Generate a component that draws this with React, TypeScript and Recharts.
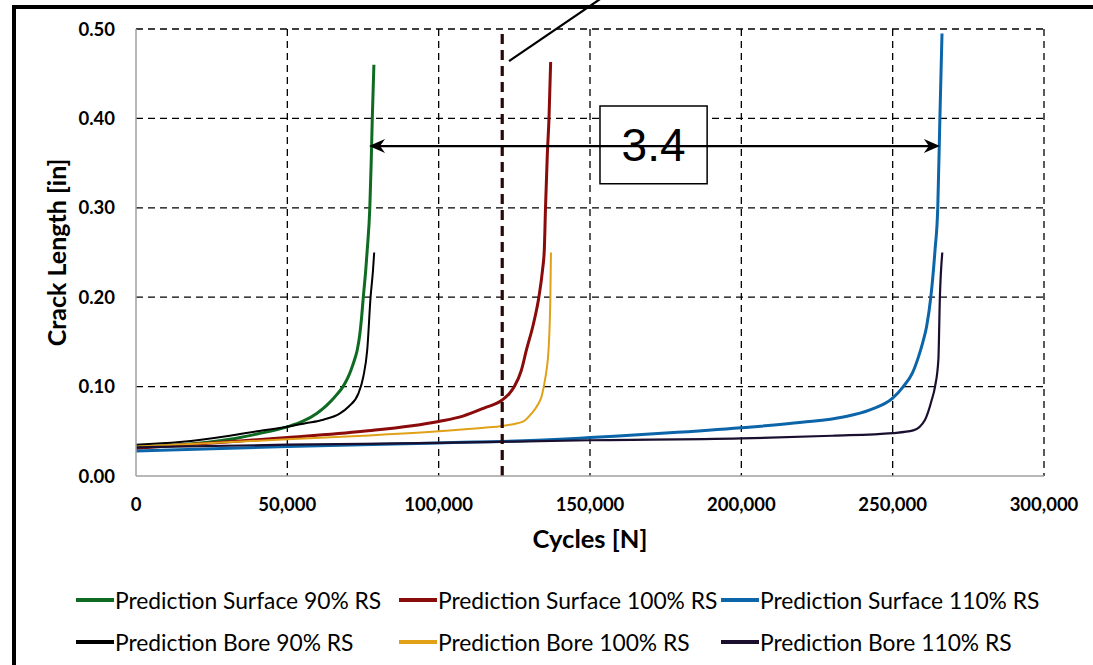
import React from 'react';
import {
  LineChart, Line, XAxis, YAxis, CartesianGrid, ReferenceLine, ReferenceArea,
} from 'recharts';

// ---- data (cycles, crack length in) ----
const surface90: { x: number; y: number }[] = [
  { x: 0, y: 0.033 }, { x: 15000, y: 0.035 }, { x: 31000, y: 0.041 }, { x: 40000, y: 0.047 },
  { x: 50000, y: 0.055 }, { x: 55000, y: 0.061 }, { x: 59700, y: 0.070 }, { x: 63000, y: 0.079 },
  { x: 65800, y: 0.089 }, { x: 68400, y: 0.100 }, { x: 70000, y: 0.110 }, { x: 71200, y: 0.120 },
  { x: 72200, y: 0.130 }, { x: 73100, y: 0.141 }, { x: 74000, y: 0.160 }, { x: 74600, y: 0.180 },
  { x: 75100, y: 0.200 }, { x: 75900, y: 0.230 }, { x: 76400, y: 0.253 }, { x: 77250, y: 0.300 },
  { x: 77700, y: 0.350 }, { x: 78070, y: 0.400 }, { x: 78600, y: 0.460 },
];
const surface100: { x: number; y: number }[] = [
  { x: 0, y: 0.031 }, { x: 25000, y: 0.037 }, { x: 50000, y: 0.043 }, { x: 75000, y: 0.050 },
  { x: 100000, y: 0.061 }, { x: 108000, y: 0.067 }, { x: 115000, y: 0.076 }, { x: 121000, y: 0.085 },
  { x: 123300, y: 0.092 }, { x: 125000, y: 0.100 }, { x: 127300, y: 0.118 }, { x: 129000, y: 0.141 },
  { x: 131300, y: 0.170 }, { x: 133100, y: 0.200 }, { x: 134300, y: 0.230 }, { x: 134900, y: 0.253 },
  { x: 135300, y: 0.300 }, { x: 135900, y: 0.360 }, { x: 136450, y: 0.400 }, { x: 137000, y: 0.463 },
];
const surface110: { x: number; y: number }[] = [
  { x: 0, y: 0.028 }, { x: 50000, y: 0.033 }, { x: 100000, y: 0.037 }, { x: 140000, y: 0.041 },
  { x: 150000, y: 0.043 }, { x: 175000, y: 0.048 }, { x: 200000, y: 0.054 }, { x: 220000, y: 0.060 },
  { x: 233700, y: 0.066 }, { x: 242500, y: 0.074 }, { x: 250000, y: 0.087 }, { x: 253500, y: 0.100 },
  { x: 256500, y: 0.115 }, { x: 258500, y: 0.133 }, { x: 260000, y: 0.150 }, { x: 261200, y: 0.167 },
  { x: 262600, y: 0.200 }, { x: 264000, y: 0.253 }, { x: 264900, y: 0.300 }, { x: 265600, y: 0.400 },
  { x: 266300, y: 0.495 },
];
const bore90: { x: number; y: number }[] = [
  { x: 0, y: 0.035 }, { x: 14500, y: 0.038 }, { x: 31000, y: 0.045 }, { x: 40000, y: 0.050 },
  { x: 50000, y: 0.055 }, { x: 56000, y: 0.059 }, { x: 61900, y: 0.063 }, { x: 67400, y: 0.070 },
  { x: 70200, y: 0.0775 }, { x: 73500, y: 0.0925 }, { x: 75100, y: 0.111 }, { x: 76400, y: 0.141 },
  { x: 77500, y: 0.200 }, { x: 78300, y: 0.230 }, { x: 78700, y: 0.250 },
];
const bore100: { x: number; y: number }[] = [
  { x: 0, y: 0.033 }, { x: 25000, y: 0.037 }, { x: 50000, y: 0.041 }, { x: 75000, y: 0.045 },
  { x: 100000, y: 0.050 }, { x: 115000, y: 0.054 }, { x: 121000, y: 0.056 }, { x: 126000, y: 0.059 },
  { x: 128000, y: 0.061 }, { x: 130700, y: 0.070 }, { x: 132800, y: 0.080 }, { x: 134000, y: 0.089 },
  { x: 135000, y: 0.105 }, { x: 135700, y: 0.120 }, { x: 136300, y: 0.141 }, { x: 136900, y: 0.200 },
  { x: 137100, y: 0.250 },
];
const bore110: { x: number; y: number }[] = [
  { x: 0, y: 0.032 }, { x: 50000, y: 0.035 }, { x: 100000, y: 0.037 }, { x: 150000, y: 0.040 },
  { x: 200000, y: 0.042 }, { x: 230000, y: 0.045 }, { x: 250000, y: 0.048 }, { x: 256800, y: 0.051 },
  { x: 260700, y: 0.063 }, { x: 262900, y: 0.085 }, { x: 264000, y: 0.100 }, { x: 265100, y: 0.130 },
  { x: 265600, y: 0.200 }, { x: 266400, y: 0.250 },
];

const seriesNames = [
  'Prediction Surface 90% RS', 'Prediction Surface 100% RS', 'Prediction Surface 110% RS',
  'Prediction Bore 90% RS', 'Prediction Bore 100% RS', 'Prediction Bore 110% RS',
];
const seriesData = [surface90, surface100, surface110, bore90, bore100, bore110];
const seriesColors = ['#0f6a22', '#8b0a0a', '#0b65a8', '#000000', '#e0a018', '#1a0f2e'];
const seriesWidths = [3, 3, 3, 2, 2, 2.2];

const xTicks = [0, 50000, 100000, 150000, 200000, 250000, 300000];
const yTicks = [0, 0.1, 0.2, 0.3, 0.4, 0.5];
const gridX = [50000, 100000, 150000, 200000, 250000, 300000];
const gridY = [0.1, 0.2, 0.3, 0.4, 0.5];

const markerCycles = 121000;
const arrowY = 0.369;
const arrowFrom = 77000;
const arrowTo = 265600;
const ratioLabel = '3.4';
const boxX = [153300, 188700];
const boxY = [0.327, 0.414];
const calloutFrom = { x: 123240, y: 0.464 };
const calloutTo = { x: 157900, y: 0.544 };

const FONT = 'Lato, "Open Sans", sans-serif';

const ArrowShape = (props: any) => {
  const { x1, y1, x2, y2 } = props;
  const L = 16;
  const W = 7;
  const n = 5;
  return (
    <g>
      <line x1={x1 + 6} y1={y1} x2={x2 - 6} y2={y2} stroke="#000" strokeWidth={2.2} />
      <polygon
        points={`${x1},${y1} ${x1 + L},${y1 - W} ${x1 + L - n},${y1} ${x1 + L},${y1 + W}`}
        fill="#000"
      />
      <polygon
        points={`${x2},${y2} ${x2 - L},${y2 - W} ${x2 - L + n},${y2} ${x2 - L},${y2 + W}`}
        fill="#000"
      />
    </g>
  );
};

const legendCols = [76, 399, 721];
const legendRows = [600, 642];

export default function App() {
  return (
    <div
      style={{
        position: 'absolute', left: 0, top: 0, width: 1093, height: 665,
        overflow: 'hidden', background: '#fff', fontFamily: FONT,
      }}
    >
      <div
        style={{
          position: 'absolute', left: 12, top: 5, width: 1300, height: 900,
          borderLeft: '4px solid #000', borderTop: '4px solid #000',
        }}
      />
      <div style={{ position: 'absolute', left: 0, top: 0 }}>
        <LineChart
          width={1093}
          height={665}
          margin={{ top: 29, right: 49, left: 0, bottom: 159 }}
        >
          <CartesianGrid
            stroke="#000"
            strokeWidth={1.3}
            strokeDasharray="7 5"
            horizontalValues={gridY}
            verticalValues={gridX}
          />
          <XAxis
            type="number"
            dataKey="x"
            domain={[0, 300000]}
            ticks={xTicks}
            height={30}
            allowDataOverflow
            tickSize={0}
            tickMargin={22}
            tickFormatter={(v: number) => v.toLocaleString('en-US')}
            tick={{ fill: '#000', fontSize: 18.5, fontWeight: 700, fontFamily: FONT }}
            axisLine={{ stroke: '#a0a0a0', strokeWidth: 1.5 }}
            tickLine={false}
            label={{
              value: 'Cycles [N]', position: 'bottom', offset: 24,
              style: { fill: '#000', fontSize: 25.5, fontWeight: 700, fontFamily: FONT },
            }}
          />
          <YAxis
            type="number"
            dataKey="y"
            domain={[0, 0.5]}
            ticks={yTicks}
            width={136}
            allowDataOverflow
            tickSize={0}
            tickMargin={21}
            tickFormatter={(v: number) => v.toFixed(2)}
            tick={{ fill: '#000', fontSize: 18.5, fontWeight: 700, fontFamily: FONT }}
            axisLine={{ stroke: '#a0a0a0', strokeWidth: 1.5 }}
            tickLine={false}
            label={{
              value: 'Crack Length [in]', angle: -90, position: 'insideLeft', offset: 57,
              style: { textAnchor: 'middle', fill: '#000', fontSize: 25, fontWeight: 700, fontFamily: FONT },
            }}
          />
          {seriesData.map((d, i) => (
            <Line
              key={seriesNames[i]}
              data={d}
              dataKey="y"
              name={seriesNames[i]}
              type="monotone"
              stroke={seriesColors[i]}
              strokeWidth={seriesWidths[i]}
              dot={false}
              activeDot={false}
              isAnimationActive={false}
            />
          ))}
          <ReferenceLine
            x={markerCycles}
            stroke="#2a0808"
            strokeWidth={3.2}
            strokeDasharray="10 6"
            ifOverflow="visible"
          />
          <ReferenceLine
            segment={[calloutFrom, calloutTo]}
            stroke="#000"
            strokeWidth={2.2}
            ifOverflow="visible"
          />
          <ReferenceLine
            segment={[{ x: arrowFrom, y: arrowY }, { x: arrowTo, y: arrowY }]}
            ifOverflow="visible"
            shape={ArrowShape}
          />
          <ReferenceArea
            x1={boxX[0]}
            x2={boxX[1]}
            y1={boxY[0]}
            y2={boxY[1]}
            fill="#fff"
            fillOpacity={1}
            stroke="#000"
            strokeWidth={1.5}
            ifOverflow="visible"
            label={{
              value: ratioLabel, position: 'center',
              style: { fill: '#000', fontSize: 46, fontFamily: '"Liberation Sans", Arial, sans-serif' },
            }}
          />
        </LineChart>
      </div>
      {seriesNames.map((name, i) => {
        const col = i % 3;
        const row = Math.floor(i / 3);
        return (
          <div
            key={name}
            style={{
              position: 'absolute',
              left: legendCols[col],
              top: legendRows[row] - 15,
              height: 30,
              display: 'flex',
              alignItems: 'center',
              whiteSpace: 'nowrap',
              fontSize: 22.8,
              color: '#000',
              fontFamily: FONT,
            }}
          >
            <span
              style={{
                display: 'inline-block', width: 38, height: 4,
                background: seriesColors[i], marginRight: 1,
              }}
            />
            <span>{name}</span>
          </div>
        );
      })}
    </div>
  );
}
